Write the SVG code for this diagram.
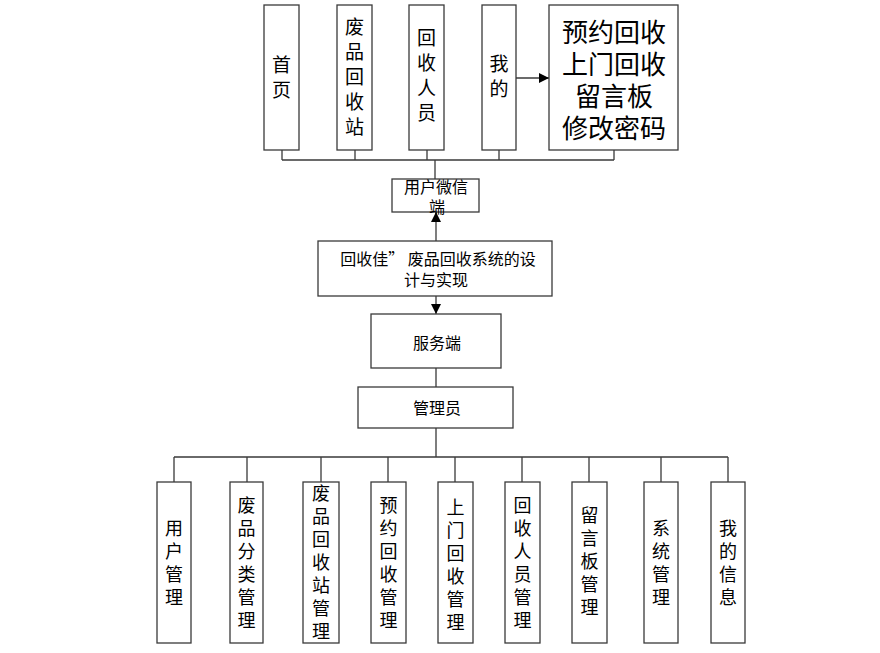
<svg xmlns="http://www.w3.org/2000/svg" width="880" height="653" viewBox="0 0 880 653">
<defs>
<style>
.box{fill:#fff;stroke:#3a3a3a;stroke-width:1.3}
.ln{fill:none;stroke:#3a3a3a;stroke-width:1.3}
text{font-family:"Noto Sans CJK SC","Liberation Sans",sans-serif;fill:#000;text-anchor:middle;dominant-baseline:central}
.v{font-size:18px;writing-mode:vertical-rl;letter-spacing:5px}
.t{font-size:19px;writing-mode:vertical-rl;letter-spacing:6px}
.b{font-size:26px}
.m{font-size:16px}
</style>
<marker id="ah" viewBox="0 0 10 10" refX="10" refY="5" markerWidth="10" markerHeight="10" markerUnits="userSpaceOnUse" orient="auto">
<path d="M0,0L10,5L0,10z" fill="#000"/>
</marker>
</defs>
<rect width="880" height="653" fill="#fff"/>
<g id="connectors">
<path class="ln" d="M282,150V160M355,150V160M427,150V160M499,150V160M614,150V160M282,160H614M435,160V179"/>
<path class="ln" d="M516,78H549" stroke-width="2" marker-end="url(#ah)"/>
<path class="ln" d="M436,241V212" marker-end="url(#ah)"/>
<path class="ln" d="M436,296V314" marker-end="url(#ah)"/>
<path class="ln" d="M436,368V387M436,428V457M174,457H728M174,457V482M247,457V482M321,457V482M388,457V482M455,457V482M522,457V482M589,457V482M661,457V482M728,457V482"/>
</g>
<g id="n-home"><rect class="box" x="264" y="5" width="35" height="145"/>
<text class="t" x="281.5" y="80">首页</text></g>
<g id="n-station"><rect class="box" x="337" y="5" width="35" height="145"/>
<text class="t" x="354.5" y="80">废品回收站</text></g>
<g id="n-recycler"><rect class="box" x="409" y="5" width="35" height="145"/>
<text class="t" x="426.5" y="78">回收人员</text></g>
<g id="n-mine"><rect class="box" x="482" y="5" width="34" height="145"/>
<text class="t" x="499" y="79">我的</text></g>
<g id="n-mine-items"><rect class="box" x="549" y="5" width="129" height="145"/>
<text class="b"><tspan x="614" y="30">预约回收</tspan><tspan x="614" y="62">上门回收</tspan><tspan x="614" y="94">留言板</tspan><tspan x="614" y="126">修改密码</tspan></text></g>
<g id="n-wechat"><rect class="box" x="392" y="179" width="87" height="33"/>
<text class="m"><tspan x="436" y="186">用户微信</tspan><tspan x="437" y="206">端</tspan></text></g>
<g id="n-system"><rect class="box" x="318" y="241" width="234" height="55"/>
<text class="m"><tspan x="438" y="258">回收佳” 废品回收系统的设</tspan><tspan x="436" y="279">计与实现</tspan></text></g>
<g id="n-server"><rect class="box" x="371" y="314" width="130" height="54"/>
<text class="m" x="437" y="342">服务端</text></g>
<g id="n-admin"><rect class="box" x="358" y="387" width="155" height="41"/>
<text class="m" x="437" y="407">管理员</text></g>
<g id="n-user-mgmt"><rect class="box" x="157" y="482" width="34" height="161"/>
<text class="v" x="174" y="565">用户管理</text></g>
<g id="n-category-mgmt"><rect class="box" x="230" y="482" width="33" height="161"/>
<text class="v" x="246.5" y="565">废品分类管理</text></g>
<g id="n-station-mgmt"><rect class="box" x="303" y="482" width="36" height="161"/>
<text class="v" x="321" y="565">废品回收站管理</text></g>
<g id="n-booking-mgmt"><rect class="box" x="371" y="482" width="35" height="161"/>
<text class="v" x="388.5" y="565">预约回收管理</text></g>
<g id="n-pickup-mgmt"><rect class="box" x="438" y="482" width="35" height="161"/>
<text class="v" x="455.5" y="567">上门回收管理</text></g>
<g id="n-recycler-mgmt"><rect class="box" x="505" y="482" width="35" height="161"/>
<text class="v" x="522.5" y="565">回收人员管理</text></g>
<g id="n-board-mgmt"><rect class="box" x="572" y="482" width="35" height="161"/>
<text class="v" x="589.5" y="564">留言板管理</text></g>
<g id="n-sys-mgmt"><rect class="box" x="644" y="482" width="34" height="161"/>
<text class="v" x="661" y="565">系统管理</text></g>
<g id="n-my-info"><rect class="box" x="711" y="482" width="34" height="161"/>
<text class="v" x="728" y="565">我的信息</text></g>
</svg>
